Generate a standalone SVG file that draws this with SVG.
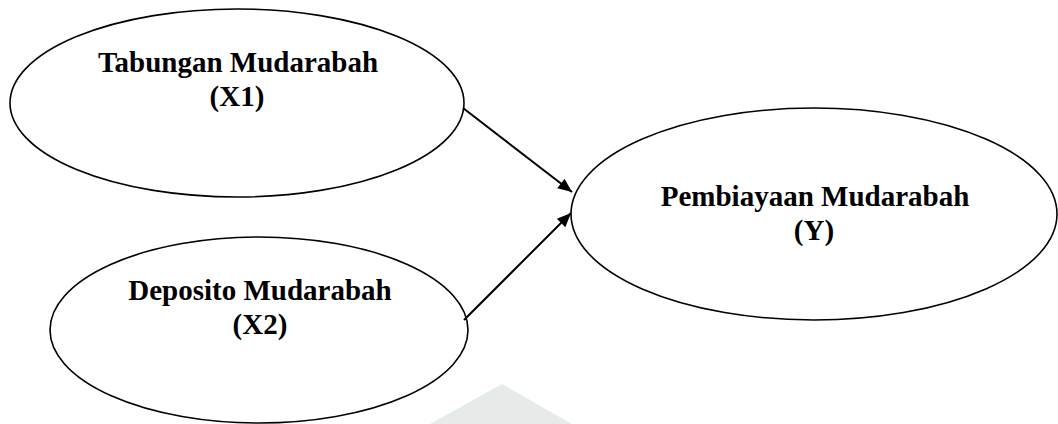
<svg xmlns="http://www.w3.org/2000/svg" width="1058" height="424" viewBox="0 0 1058 424">
  <style>
    .node ellipse { fill: #ffffff; stroke: #000000; stroke-width: 1.6; }
    .label { font-family: "Liberation Serif", "Times New Roman", serif; font-weight: bold; font-size: 29px; fill: #000000; text-anchor: middle; }
    .edge { stroke: #000000; stroke-width: 2; fill: none; marker-end: url(#arrow); }
  </style>
  <defs>
    <marker id="arrow" markerUnits="userSpaceOnUse" markerWidth="16" markerHeight="14" refX="15" refY="7" orient="auto">
      <path d="M1,1 L15,7 L1,13 z" fill="#000000"/>
    </marker>
  </defs>
  <rect width="1058" height="424" fill="#ffffff"/>
  <polygon points="430,424 502,384 572,424" fill="#e6ebe9"/>
  <g id="node-x1" class="node">
    <ellipse cx="237" cy="103" rx="227" ry="94"/>
    <text class="label" x="238" y="72">Tabungan Mudarabah</text>
    <text class="label" x="237" y="106">(X1)</text>
  </g>
  <g id="node-x2" class="node">
    <ellipse cx="259" cy="330" rx="209" ry="93"/>
    <text class="label" x="260" y="300">Deposito Mudarabah</text>
    <text class="label" x="260" y="334">(X2)</text>
  </g>
  <g id="node-y" class="node">
    <ellipse cx="814" cy="214" rx="243" ry="106"/>
    <text class="label" x="815" y="206">Pembiayaan Mudarabah</text>
    <text class="label" x="814" y="240">(Y)</text>
  </g>
  <g id="connectors">
    <line class="edge" x1="463" y1="108" x2="572" y2="192"/>
    <line class="edge" x1="464" y1="320" x2="571" y2="213"/>
  </g>
</svg>
